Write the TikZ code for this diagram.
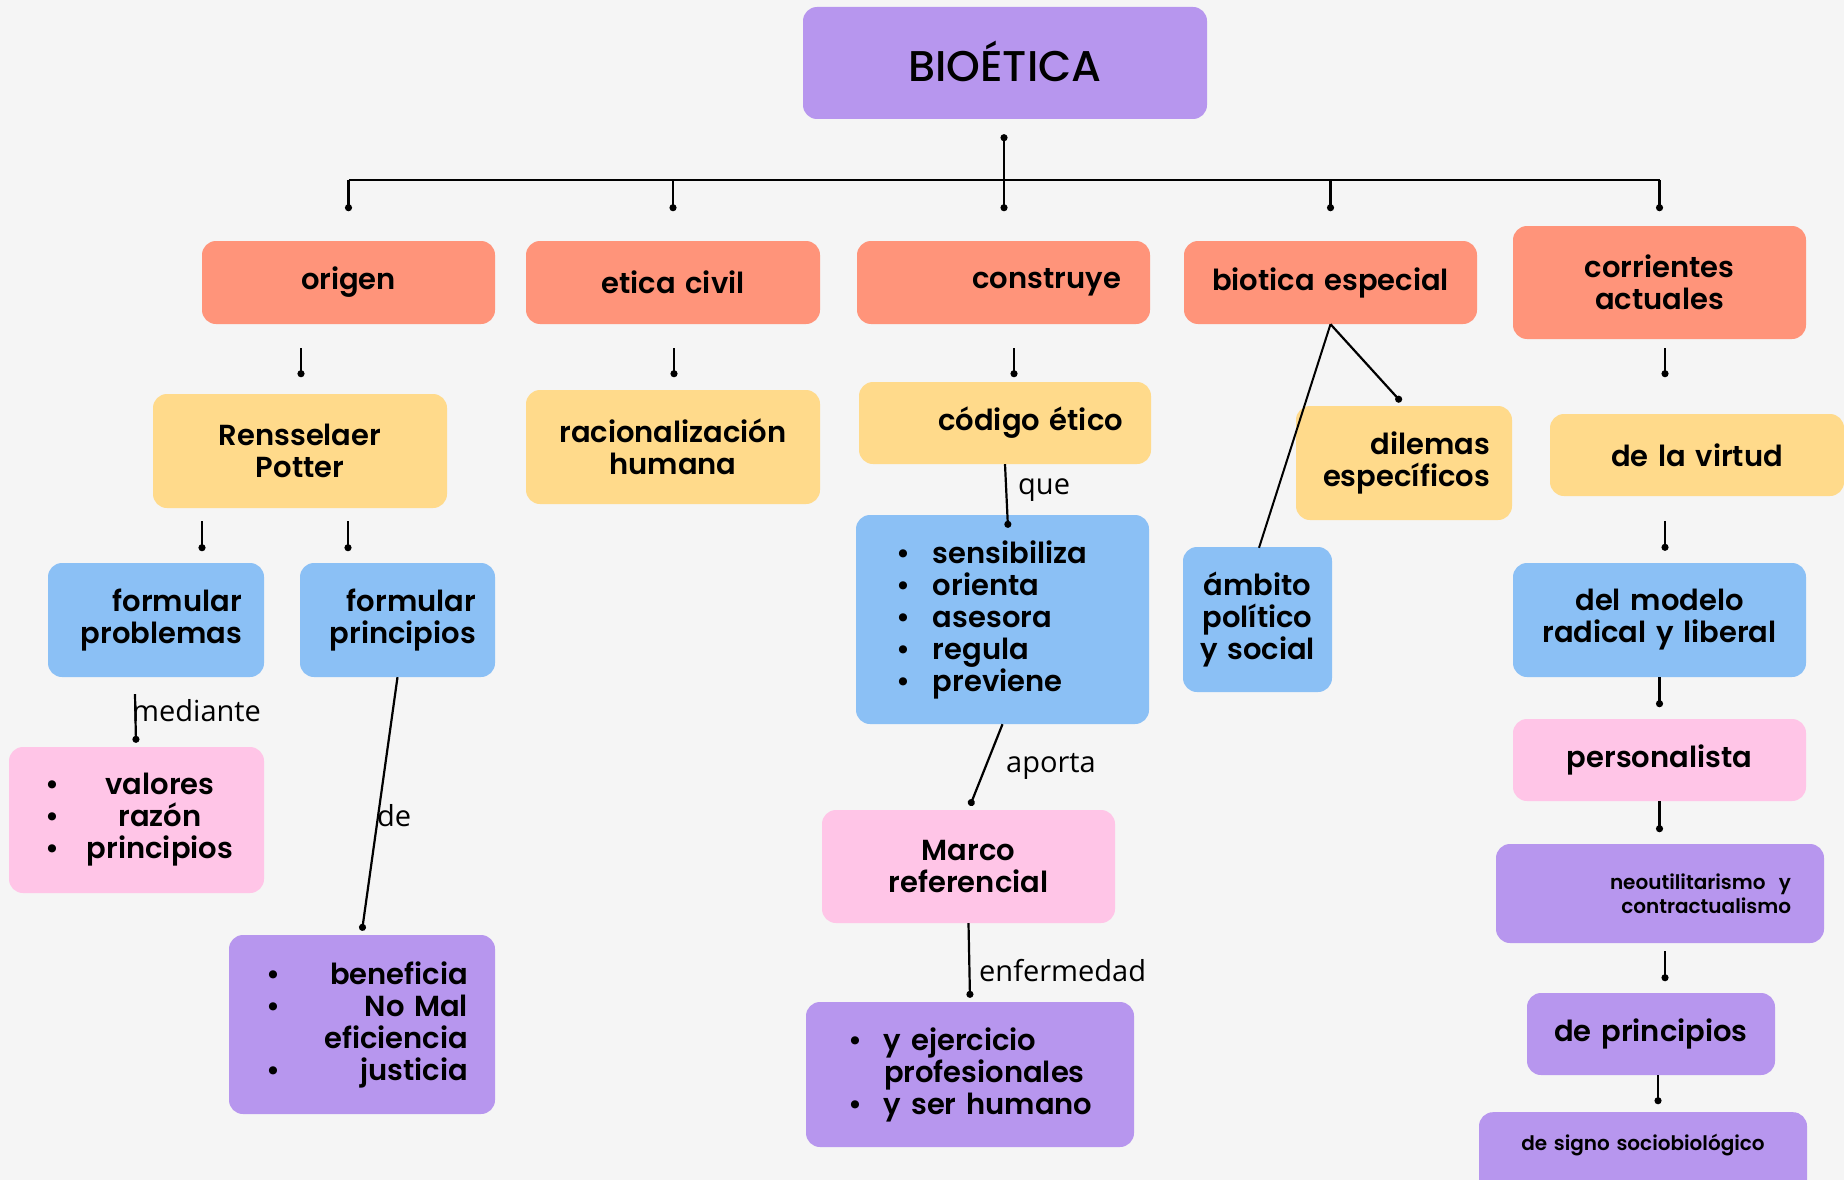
\documentclass[tikz,border=0pt]{standalone}
\usepackage{fontspec}
\usetikzlibrary{calc,arrows.meta}
\newfontfamily\boxfont{Poppins SemiBold}
\newfontfamily\titlefont{Poppins Medium}
\newfontfamily\lblfont{Open Sans}
\definecolor{bgc}{HTML}{F5F5F5}
\definecolor{salm}{HTML}{FF947A}
\definecolor{yell}{HTML}{FFDA8B}
\definecolor{blu}{HTML}{8BC0F5}
\definecolor{pnk}{HTML}{FFC5E7}
\definecolor{purp}{HTML}{B796EE}
\newcommand\bul[1][37]{\makebox[#1pt][l]{\textbullet}}
\newcommand\padl[1]{\leftskip=#1pt\relax}
\newcommand\padr[1]{\rightskip=#1pt\relax}
\newcommand\padlr[2]{\leftskip=#1pt\rightskip=#2pt\relax}

\tikzset{
box/.style={rounded corners=14pt, inner xsep=0pt, inner ysep=0pt, align=center,
  font=\boxfont\fontsize{29}{32}\selectfont},
small/.style={font=\boxfont\fontsize{20}{24}\selectfont},
link/.style={line width=2.2pt, -{Circle[length=7pt]}},
lbl/.style={font=\lblfont\fontsize{29}{30}\selectfont, inner sep=0pt, anchor=base west},
}

\begin{document}
\begin{tikzpicture}[x=1pt,y=-1pt]
		\fill[bgc] (0,0) rectangle (1844,1180);
		\useasboundingbox (0,0) rectangle (1844,1180);

		% title
		\node[box, fill=purp, text width=404pt, minimum height=112pt, text depth=4pt,
			font=\titlefont\fontsize{43}{45}\selectfont] (bio) at (1005,63) {BIOÉTICA};

		% first row
		\node[box, fill=salm, text width=293pt, minimum height=83pt] (orig) at (348.5,282.5) {origen};
		\node[box, fill=salm, text width=294pt, minimum height=83pt] (civil) at (673,282.5) {etica civil};
		\node[box, fill=salm, text width=293pt, minimum height=83pt, align=right] (constr) at (1003.5,282.5) {\padr{29}construye\par};
		\node[box, fill=salm, text width=293pt, minimum height=83pt] (bioesp) at (1330.5,282.5) {biotica especial};
		\node[box, fill=salm, text width=293pt, minimum height=113pt] (corr) at (1659.5,282.5) {corrientes\\actuales};

		% second row
		\node[box, fill=yell, text width=294pt, minimum height=114pt] (potter) at (300,451) {Rensselaer\\Potter};
		\node[box, fill=yell, text width=294pt, minimum height=114pt] (racio) at (673,447) {racionalización\\humana};
		\node[box, fill=yell, text width=292pt, minimum height=82pt, align=right] (codigo) at (1005,423) {\padr{28}código ético\par};
		\node[box, fill=yell, text width=216pt, minimum height=114pt, align=right] (dilemas) at (1404,463) {\padr{22}dilemas\\específicos\par};
		\node[box, fill=yell, text width=294pt, minimum height=82pt] (virtud) at (1697,455) {de la virtud};

		% third row
		\node[box, fill=blu, text width=216pt, minimum height=114pt, align=right] (fprob) at (156,620) {\padr{22}formular\\problemas\par};
		\node[box, fill=blu, text width=195pt, minimum height=114pt, align=right] (fprin) at (397.5,620) {\padr{19}formular\\principios\par};
		\node[box, fill=blu, text width=293pt, minimum height=209pt, align=left] (lista) at (1002.5,619.5)
			{\padl{40}\bul sensibiliza\\\bul orienta\\\bul asesora\\\bul regula\\\bul previene\par};
		\node[box, fill=blu, text width=149pt, minimum height=145pt] (ambito) at (1257.5,619.5) {ámbito\\político\\y social};
		\node[box, fill=blu, text width=293pt, minimum height=114pt] (modelo) at (1659.5,620) {del modelo\\radical y liberal};

		% lower boxes
		\node[box, fill=pnk, text width=255pt, minimum height=146pt, align=left] (valores) at (136.5,820)
			{\padl{37}\bul[40]\makebox[148pt]{valores}\\\bul[40]\makebox[148pt]{razón}\\\bul[40]\makebox[148pt]{principios}\par};
		\node[box, fill=purp, text width=266pt, minimum height=179pt, align=left] (benef) at (362,1024.5)
			{\padlr{37}{27}\bul[0]\hfill beneficia\\\bul[0]\hfill No Mal\\\mbox{}\hfill eficiencia\\\bul[0]\hfill justicia\par};
		\node[box, fill=pnk, text width=293pt, minimum height=113pt] (marco) at (968.5,866.5) {Marco\\referencial};
		\node[box, fill=purp, text width=328pt, minimum height=145pt, align=left] (ejerc) at (970,1074.5)
			{\padl{42}\bul[36]y ejercicio\\\hspace*{36pt}profesionales\\\bul[36]y ser humano\par};
		\node[box, fill=pnk, text width=293pt, minimum height=82pt] (perso) at (1659.5,760) {personalista};
		\node[box, small, fill=purp, text width=328pt, minimum height=99pt, align=right] (neo) at (1660,893.5)
			{\padr{33}neoutilitarismo\ \ y\\contractualismo\par};
		\node[box, fill=purp, text width=248pt, minimum height=82pt] (deprin) at (1651,1034) {de principios};
		\node[box, small, fill=purp, text width=328pt, minimum height=90pt, text depth=30pt, anchor=north] (signo) at (1643,1112)
			{de signo sociobiológico};

		% top fork
		\coordinate (top) at ($(bio.south)+(-1,15)$);
		\coordinate (bar) at ($(top)+(0,46)$);
		\draw[line width=2.2pt] (bar -| orig) -- (bar -| corr);
		\draw[line width=2.2pt, {Circle[length=7pt]}-{Circle[length=7pt]}] (top) -- ++(0,77);
		\foreach \n in {orig,civil,bioesp,corr}
			\draw[link] (bar -| \n) -- ++(0,31);

		% short links
		\draw[link] ($(orig.south)+(-47.5,24)$) -- ++(0,29);
		\draw[link] ($(civil.south)+(1,24)$) -- ++(0,29);
		\draw[link] ($(constr.south)+(10.5,24)$) -- ++(0,29);
		\draw[link] ($(corr.south)+(5.5,9)$) -- ++(0,29);
		\draw[link] ($(potter.south)+(-98,13)$) -- ++(0,30);
		\draw[link] ($(potter.south)+(48,13)$) -- ++(0,30);
		\draw[link] ($(modelo.north)+(5.5,-42)$) -- ++(0,30);
		\draw[link] (modelo.south) -- ++(0,30);
		\draw[link] (perso.south) -- ++(0,31);
		\draw[link] ($(neo.south)+(5,8)$) -- ++(0,30);
		\draw[link] ($(deprin.south)+(7,0)$) -- ++(0,29);

		% labelled links
		\draw[link] ($(fprob.south)+(-21,17)$) -- ($(valores.north)+(-0.5,-4)$);
		\draw[link] (fprin.south) -- ($(benef.north)+(0,-4)$);
		\draw[link] (codigo.south) -- ($(lista.north)+(5.5,13)$);
		\draw[link] (lista.south) -- ($(marco.north)+(1.5,-4)$);
		\draw[link] (marco.south) -- ($(ejerc.north)+(0,-4)$);
		\draw[link] (bioesp.south) -- ($(dilemas.north)+(-3,-4)$);
		\draw[line width=2pt] (bioesp.south) -- ($(ambito.north)+(1.5,1)$);

		\node[lbl] (med) at (132,721) {mediante};
		\node[lbl] (de) at (377,826) {de};
		\node[lbl] (que) at (1018,494) {que};
		\node[lbl] (aporta) at (1006,772) {aporta};
		\node[lbl] (enf) at (979,981) {enfermedad};
\end{tikzpicture}
\end{document}
